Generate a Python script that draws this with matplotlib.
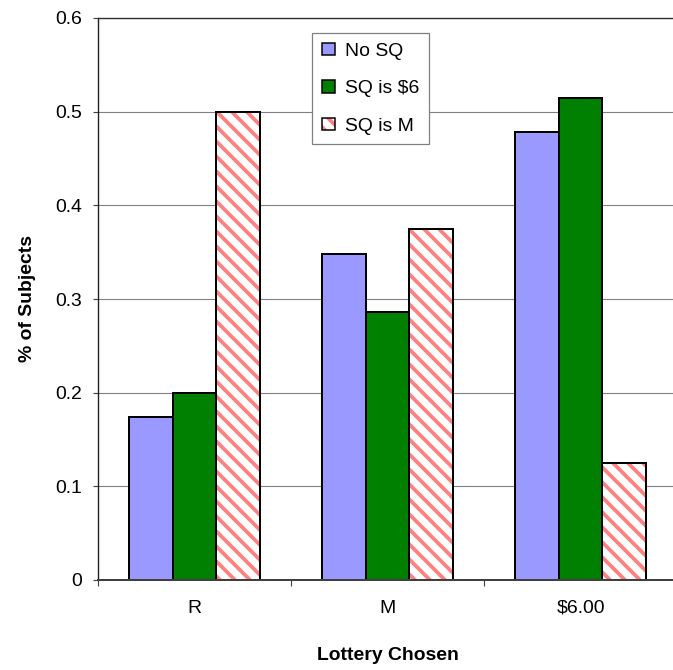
"""Grouped bar chart: share of subjects choosing each lottery, by status-quo condition."""

from __future__ import annotations

import matplotlib

matplotlib.use("Agg")
import matplotlib.pyplot as plt
from matplotlib.patches import Patch
from matplotlib.ticker import FixedFormatter, FixedLocator

categories = ["R", "M", "$6.00"]
series_names = ["No SQ", "SQ is $6", "SQ is M"]
no_sq = [4 / 23, 8 / 23, 11 / 23]
sq_is_6 = [7 / 35, 10 / 35, 18 / 35]
sq_is_m = [12 / 24, 9 / 24, 3 / 24]
y_ticks = [0, 0.1, 0.2, 0.3, 0.4, 0.5, 0.6]
y_tick_labels = ["0", "0.1", "0.2", "0.3", "0.4", "0.5", "0.6"]

DPI = 90
BLUE = "#9999FF"
GREEN = "#008000"
PINK = "#FF8080"
HATCH = "\\\\"
FONT = ["Liberation Sans", "DejaVu Sans"]


def main() -> None:
    plt.rcParams["font.family"] = FONT
    plt.rcParams["hatch.linewidth"] = 3.0

    fig = plt.figure(figsize=(673 / DPI, 670 / DPI), dpi=DPI)
    ax = fig.add_axes([98 / 673, 90 / 670, 579 / 673, 562 / 670])

    n = len(categories)
    x = list(range(n))
    width = 0.225
    edge = dict(edgecolor="black", linewidth=1.6)

    ax.bar([i - width for i in x], no_sq, width, color=BLUE, **edge)
    ax.bar(x, sq_is_6, width, color=GREEN, **edge)
    # hatched bars: stripes first, then a black outline on top
    ax.bar([i + width for i in x], sq_is_m, width, color="white",
           edgecolor=PINK, hatch=HATCH, linewidth=0)
    ax.bar([i + width for i in x], sq_is_m, width, fill=False, **edge)

    ax.set_xlim(-0.5, n - 0.5)
    ax.set_ylim(0, 0.6)
    ax.set_axisbelow(True)
    ax.yaxis.grid(True, color="#808080", linewidth=0.9)

    ax.yaxis.set_major_locator(FixedLocator(y_ticks))
    ax.yaxis.set_major_formatter(FixedFormatter(y_tick_labels))
    ax.tick_params(axis="y", direction="out", length=4, width=0.9,
                   color="#404040", pad=8.5, labelsize=15.5)

    # category boundaries get the tick marks, centres get the labels
    ax.xaxis.set_major_locator(FixedLocator([i - 0.5 for i in range(n + 1)]))
    ax.xaxis.set_major_formatter(FixedFormatter([""] * (n + 1)))
    ax.xaxis.set_minor_locator(FixedLocator(x))
    ax.xaxis.set_minor_formatter(FixedFormatter(categories))
    ax.tick_params(axis="x", which="major", direction="out", length=5,
                   width=0.9, color="#404040")
    ax.tick_params(axis="x", which="minor", length=0, pad=16, labelsize=15.5)

    ax.spines["right"].set_visible(False)
    ax.spines["left"].set_color("#202020")
    ax.spines["left"].set_linewidth(1.1)
    ax.spines["bottom"].set_color("#404040")
    ax.spines["bottom"].set_linewidth(1.6)
    ax.spines["top"].set_color("#303030")
    ax.spines["top"].set_linewidth(1.1)

    ax.set_xlabel("Lottery Chosen", fontsize=15.5, fontweight="bold", labelpad=24)
    ax.set_ylabel("% of Subjects", fontsize=15.5, fontweight="bold", labelpad=16)

    handles = [
        Patch(facecolor=BLUE, edgecolor="black", linewidth=1.2),
        Patch(facecolor=GREEN, edgecolor="black", linewidth=1.2),
        (Patch(facecolor="white", edgecolor=PINK, hatch=HATCH, linewidth=0),
         Patch(fill=False, edgecolor="black", linewidth=1.2)),
    ]
    leg = fig.legend(
        handles, series_names,
        loc="upper left", bbox_to_anchor=(312 / 673, 1 - 33 / 670),
        fontsize=15.5, frameon=True, fancybox=False, framealpha=1,
        edgecolor="#808080", handlelength=0.7, handleheight=0.62,
        handletextpad=0.5, labelspacing=1.05, borderpad=0.5,
        borderaxespad=0,
    )
    leg.get_frame().set_linewidth(1.0)

    fig.savefig("out.png", dpi=DPI)
    plt.close(fig)


if __name__ == "__main__":
    main()
